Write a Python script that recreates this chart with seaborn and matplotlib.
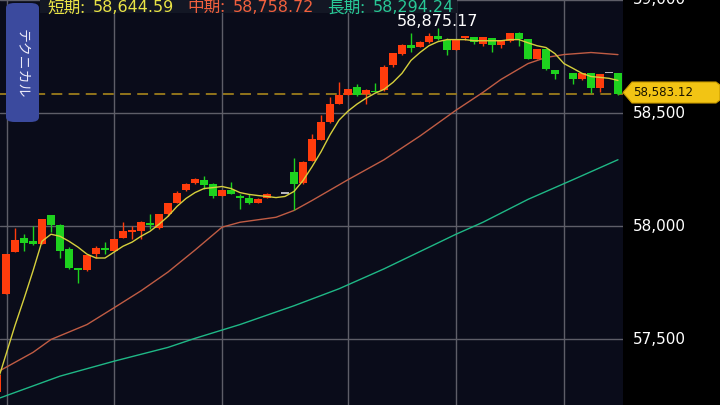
import numpy as np
import pandas as pd
import matplotlib.pyplot as plt
import matplotlib.patches as mpatches
import seaborn as sns

# --- data (daily candles, index -1 is the clipped one at the left edge) ---
days = list(range(-1, 69))
nan = np.nan
opens = [57268, 57702, 57886, 57948, 57934, 57921, 58048, 58005, 57899, 57816,
         57807, 57877, 57904, 57890, 57948, 57974, 57978, 58013, 57991, 58053,
         58105, 58162, 58193, 58206, 58189, 58132, 58162, 58136, 58123, 58105,
         58123, nan, 58145, 58241, 58193, 58290, 58382, 58461, 58540, 58579,
         58614, 58583, 58597, 58601, 58711, 58763, 58803, 58794, 58816, 58842,
         58825, 58781, 58833, 58838, 58807, 58833, 58803, 58820, 58855, 58829,
         58741, 58785, 58689, nan, 58676, 58649, 58676, 58610, 58676, 58676]
highs = [57342, 57877, 57991, 57965, 58000, 58031, 58048, 58009, 57908, 57816,
         57873, 57912, 57930, 57943, 58018, 58000, 58022, 58053, 58053, 58105,
         58154, 58193, 58215, 58224, 58193, 58162, 58198, 58141, 58141, 58123,
         58149, nan, 58145, 58303, 58290, 58408, 58491, 58570, 58636, 58605,
         58627, 58605, 58632, 58711, 58768, 58807, 58855, 58820, 58855, 58875.17,
         58833, 58829, 58842, 58838, 58838, 58833, 58825, 58855, 58860, 58829,
         58785, 58785, 58689, nan, 58676, 58676, 58676, 58671, 58676, 58676]
lows = [57268, 57702, 57886, 57890, 57917, 57921, 57974, 57860, 57812, 57750,
        57803, 57860, 57877, 57890, 57948, 57943, 57943, 57987, 57987, 58044,
        58101, 58154, 58189, 58167, 58127, 58132, 58141, 58075, 58097, 58101,
        58123, nan, 58145, 58070, 58189, 58290, 58382, 58456, 58540, 58579,
        58575, 58540, 58592, 58597, 58706, 58759, 58772, 58794, 58811, 58825,
        58759, 58781, 58825, 58807, 58798, 58772, 58790, 58816, 58798, 58741,
        58741, 58689, 58649, nan, 58627, 58645, 58588, 58592, 58676, 58579]
closes = [57342, 57877, 57939, 57926, 57921, 58031, 58005, 57890, 57816, 57807,
          57873, 57904, 57895, 57943, 57978, 57983, 58018, 58005, 58053, 58101,
          58149, 58189, 58211, 58184, 58132, 58162, 58141, 58123, 58105, 58119,
          58145, nan, 58145, 58189, 58285, 58386, 58461, 58540, 58579, 58605,
          58579, 58601, 58592, 58706, 58768, 58803, 58790, 58816, 58842, 58829,
          58781, 58829, 58842, 58816, 58838, 58803, 58825, 58855, 58829, 58741,
          58785, 58693, 58671, nan, 58649, 58676, 58610, 58671, 58676, 58583.12]

ma_short = [57307, 57434, 57562, 57680, 57803, 57934, 57965, 57956, 57934, 57908,
            57877, 57860, 57860, 57886, 57912, 57930, 57956, 57978, 58009, 58044,
            58088, 58123, 58149, 58167, 58171, 58176, 58167, 58149, 58141, 58136,
            58132, 58127, 58132, 58154, 58202, 58263, 58329, 58404, 58469, 58509,
            58540, 58566, 58588, 58605, 58636, 58676, 58733, 58768, 58798, 58816,
            58825, 58825, 58825, 58820, 58820, 58820, 58820, 58825, 58825, 58811,
            58798, 58790, 58763, 58719, 58698, 58676, 58662, 58658, 58654, 58644.59]

ma_mid_days = [-1, 3, 5, 9, 12, 15, 18, 21, 24, 26, 30, 32, 34, 38, 42, 46, 50, 53, 55, 58, 60, 62, 65, 68]
ma_mid = [57355, 57443, 57500, 57566, 57640, 57715, 57798, 57895, 57996, 58018, 58040, 58070,
          58114, 58206, 58294, 58399, 58513, 58592, 58649, 58719, 58746, 58759, 58768, 58758.72]

ma_long_days = [-1, 6, 12, 18, 21, 26, 32, 37, 42, 50, 53, 58, 63, 68]
ma_long = [57237, 57338, 57404, 57465, 57505, 57566, 57649, 57724, 57812, 57965, 58018,
           58119, 58206, 58294.24]

grid_days = [0.1, 12, 24, 38, 50, 62]
price_ticks = [57500, 58000, 58500, 59000]
last_price = 58583.12
high_price = 58875.17

UP, DOWN, FLAT = "#ff3c0c", "#1ed21e", "#b4b4bc"
BG = "#0a0c1a"


def fx(px):
    return px / 720


def fy(py):
    return 1 - py / 405


sns.set_theme(style="dark")
plt.rcParams["font.family"] = ["DejaVu Sans", "Noto Sans CJK JP"]

fig = plt.figure(figsize=(7.2, 4.05), dpi=100, facecolor="black")
ax = fig.add_axes([0, 0, 623 / 720, 1])
ax.set_facecolor(BG)
ax.set_xlim(-0.667, 68.56)
ax.set_ylim(57210.5, 58986.8)
for s in ax.spines.values():
    s.set_visible(False)

ax.set_xticks(grid_days)
ax.set_yticks(price_ticks)
ax.grid(True, color="#5e5e68", lw=1.0)
ax.tick_params(length=0, labelbottom=False, labelleft=False)

df = pd.DataFrame({"day": days, "o": opens, "h": highs, "l": lows, "c": closes}).dropna()
colors = np.where(df.c > df.o, UP, np.where(df.c < df.o, DOWN, FLAT))
ax.vlines(df.day, df.l, df.h, colors=colors, lw=1.0, zorder=3)
body_lo = np.minimum(df.o, df.c)
body_h = np.maximum((df.c - df.o).abs(), 8)
ax.bar(df.day, body_h, bottom=body_lo, width=0.86, color=colors, lw=0, zorder=3)

sns.lineplot(x=days, y=ma_short, ax=ax, color="#d6d03c", lw=1.0, zorder=4, legend=False)
sns.lineplot(x=ma_mid_days, y=ma_mid, ax=ax, color="#c05c44", lw=1.0, zorder=2, legend=False)
sns.lineplot(x=ma_long_days, y=ma_long, ax=ax, color="#1fb886", lw=1.0, zorder=2, legend=False)
ax.set_xlabel("")
ax.set_ylabel("")

ax.axhline(last_price, color="#9c7c1c", lw=1.3, dashes=(6, 3.5), zorder=1)

# right-side price labels
for p in price_ticks:
    ax.text(1 + 10 / 623, p, f"{p:,}", transform=ax.get_yaxis_transform(),
            color="white", fontsize=11, va="center", ha="left", clip_on=False)

# last price tag
tag = mpatches.Polygon([(fx(623), fy(92.5)), (fx(632), fy(82)), (fx(716), fy(82)), (fx(720), fy(85)),
                        (fx(720), fy(100)), (fx(716), fy(103)), (fx(632), fy(103))],
                       closed=True, transform=fig.transFigure, facecolor="#f2c414",
                       edgecolor="#c89a00", lw=0.8)
fig.patches.append(tag)
fig.text(fx(633), fy(92.5), f"{last_price:,.2f}", color="#1a1400", fontsize=8.6, va="center", ha="left")

# high marker
fig.text(fx(397), fy(25.5), f"{high_price:,.2f}", color="white", fontsize=11.5, va="baseline", ha="left")

# header strip with moving-average values
fig.patches.append(mpatches.Rectangle((fx(40), fy(13)), fx(417), 13 / 405, transform=fig.transFigure,
                                      facecolor="#131724", lw=0))
labels = [("短期", ma_short[-1], "#eae446"), ("中期", ma_mid[-1], "#f2603e"), ("長期", ma_long[-1], "#28c896")]
for k, (name, val, col) in enumerate(labels):
    x0 = 47 + 140 * k
    fig.text(fx(x0), fy(12.3), name + ":", color=col, fontsize=12, va="baseline", ha="left",
             family=["Noto Sans CJK JP", "DejaVu Sans"])
    fig.text(fx(x0 + 46), fy(12.3), f"{val:,.2f}", color=col, fontsize=11.5, va="baseline", ha="left")

# left tab
tab = mpatches.FancyBboxPatch((fx(6), fy(122)), fx(33), 119 / 405,
                              boxstyle="round,pad=0,rounding_size=0.012",
                              transform=fig.transFigure, facecolor="#3b4a9e", lw=0)
fig.patches.append(tab)
fig.text(fx(22.5), fy(64), "テクニカル", rotation=-90, color="#eceaf8", fontsize=10,
         va="center", ha="center", family=["Noto Sans CJK JP", "DejaVu Sans"])

fig.savefig("out.png", dpi=100, facecolor="black")
